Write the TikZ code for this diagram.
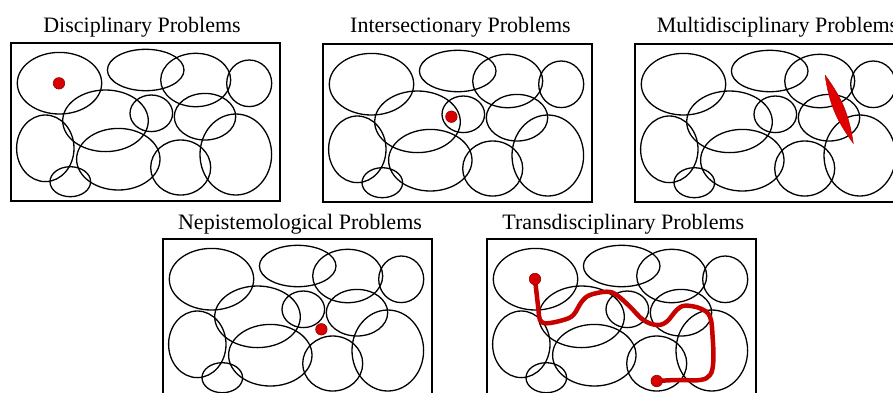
\documentclass[tikz,border=0pt]{standalone}
\usepackage{fontspec}
\setmainfont{Liberation Serif}
\usepackage{tikz}
\usetikzlibrary{positioning}

\tikzstyle{frame}  = [line width=1.5pt]
\tikzstyle{cell}   = [line width=1.3pt]
\tikzstyle{title}  = [anchor=base, inner sep=0pt, font=\fontsize{22}{26}\selectfont]
\tikzstyle{spot}   = [circle, minimum size=11.5pt, inner sep=0pt, fill=red!85!black, draw=red!55!black, line width=0.6pt]
\tikzstyle{trail}  = [line width=4.5pt, color=red!78!black, line cap=round, line join=round]
\tikzstyle{spindle}= [fill=red!88!black, draw=red!65!black, line width=0.4pt]

% the same map of overlapping fields, drawn in every panel
\newcommand{\fieldmap}{%
    \draw[frame] (0,0) rectangle (269,158);
    \draw[cell] (48.5,40.2)  ellipse [x radius=42.2, y radius=30.8];
    \draw[cell] (134.7,27)   ellipse [x radius=38.3, y radius=20.7];
    \draw[cell] (184.7,37)   ellipse [x radius=35,   y radius=26.7];
    \draw[cell] (238.2,40.3) ellipse [x radius=22.5, y radius=23.3];
    \draw[cell] (94.5,77.8)  ellipse [x radius=42.8, y radius=30.8];
    \draw[cell] (140.3,70.3) ellipse [x radius=21.3, y radius=18.3];
    \draw[cell] (194,73.7)   ellipse [x radius=30.7, y radius=23.3];
    \draw[cell] (34.3,105.3) ellipse [x radius=28.7, y radius=33.3];
    \draw[cell] (107.3,116.2) ellipse [x radius=41.7, y radius=30.8];
    \draw[cell] (169.7,124.5) ellipse [x radius=30,  y radius=27.5];
    \draw[cell] (224.8,111.5) ellipse [x radius=35.8, y radius=40.5];
    \draw[cell] (59.3,138.7) ellipse [x radius=20.3, y radius=15];
}

\begin{document}
\begin{tikzpicture}[x=1pt, y=-1pt]

    \clip (0,0) rectangle (893,392);
    \useasboundingbox (0,0) rectangle (893,392);

    % top row
    \node[title] (T1) at (142,32)   {Disciplinary Problems};
    \node[title] (T2) at (460.5,32) {Intersectionary Problems};
    \node[title] (T3) at (777.5,32) {Multidisciplinary Problems};

    \begin{scope}[shift={(11,43)}]
        \fieldmap
        \node[spot] (S1) at (48,40.3) {};
    \end{scope}

    \begin{scope}[shift={(323,44)}]
        \fieldmap
        \node[spot] (S2) at (128.4,72.7) {};
    \end{scope}

    \begin{scope}[shift={(635,44)}]
        \fieldmap
        \coordinate (M1) at (190,31);
        \coordinate (M2) at (218.3,99.3);
        \fill[spindle] (M1) to[bend left=14] (M2) to[bend left=14] (M1);
    \end{scope}

    % bottom row
    \node[title] (T4) at (300,229.3)   {Nepistemological Problems};
    \node[title] (T5) at (623.3,229.3) {Transdisciplinary Problems};

    \begin{scope}[shift={(163,239)}]
        \fieldmap
        \node[spot] (S4) at (158.4,90.3) {};
    \end{scope}

    \begin{scope}[shift={(487,239)}]
        \fieldmap
        \draw[trail] plot[smooth, tension=0.6] coordinates {
            (48,40) (51.3,69.3) (53,81) (59.7,84.3) (76.3,81) (86.3,76)
            (94.7,62.7) (103,56) (119.7,52.7) (129.7,56) (143,67.7)
            (156.3,81) (169.7,86) (179.7,82.7) (189.7,71) (198,66.7)
            (213,69.3) (223,77.7) (225.7,99.3) (226.3,122.7) (223,136)
            (213,141) (189.7,141) (169.7,142)};
        \node[spot] (S5a) at (48,40) {};
        \node[spot] (S5b) at (169.7,142) {};
    \end{scope}

\end{tikzpicture}
\end{document}
